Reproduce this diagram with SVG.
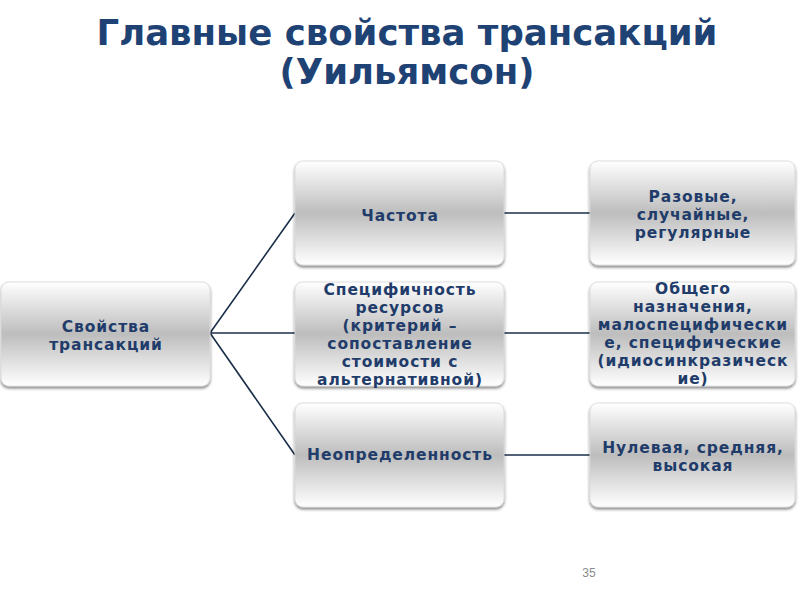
<svg xmlns="http://www.w3.org/2000/svg" width="800" height="600" viewBox="0 0 800 600">
<defs>
<linearGradient id="g" x1="0" y1="0" x2="0" y2="1">
<stop offset="0" stop-color="#ffffff"/>
<stop offset="0.5" stop-color="#bdbdbd"/>
<stop offset="1" stop-color="#ffffff"/>
</linearGradient>
<filter id="sh" x="-10%" y="-10%" width="120%" height="130%">
<feGaussianBlur in="SourceAlpha" stdDeviation="1.5"/>
<feOffset dy="2" result="b"/>
<feComponentTransfer><feFuncA type="linear" slope="0.5"/></feComponentTransfer>
<feMerge><feMergeNode/><feMergeNode in="SourceGraphic"/></feMerge>
</filter>
</defs>
<style>
.box{fill:url(#g);stroke:#d8d8d8;stroke-width:0.8;filter:url(#sh)}
.t{font-family:"DejaVu Sans",sans-serif;font-weight:bold;font-size:15.5px;letter-spacing:0.9px;fill:#1f3c6a;text-anchor:middle}
.title{font-family:"DejaVu Sans",sans-serif;font-weight:bold;font-size:35.5px;fill:#1f4275;text-anchor:middle}
.c{stroke:#1b2f4a;stroke-width:1.6;fill:none}
</style>
<rect width="800" height="600" fill="#fff"/>
<text class="title" x="407" y="45">Главные свойства трансакций</text>
<text class="title" x="407" y="84">(Уильямсон)</text>
<g id="connectors">
<path class="c" d="M210,333 L295,213 M210,333 L295,333 M210,333 L295,455"/>
<path class="c" d="M504,213 L590,213 M504,333 L590,333 M504,455 L590,455"/>
</g>
<g id="n0"><rect class="box" x="1" y="282" width="209" height="104" rx="8"/>
<text class="t" x="106" y="332">Свойства</text><text class="t" x="106" y="350">трансакций</text></g>
<g id="n1"><rect class="box" x="295" y="161" width="209" height="104" rx="8"/>
<text class="t" x="400" y="221">Частота</text></g>
<g id="n2"><rect class="box" x="295" y="282" width="209" height="104" rx="8"/>
<text class="t" x="400" y="295">Специфичность</text><text class="t" x="400" y="313">ресурсов</text><text class="t" x="400" y="331">(критерий –</text><text class="t" x="400" y="349">сопоставление</text><text class="t" x="400" y="367">стоимости с</text><text class="t" x="400" y="385">альтернативной)</text></g>
<g id="n3"><rect class="box" x="295" y="403" width="209" height="104" rx="8"/>
<text class="t" x="400" y="460">Неопределенность</text></g>
<g id="n4"><rect class="box" x="590" y="161" width="205" height="104" rx="8"/>
<text class="t" x="693" y="202">Разовые,</text><text class="t" x="693" y="220">случайные,</text><text class="t" x="693" y="238">регулярные</text></g>
<g id="n5"><rect class="box" x="590" y="282" width="205" height="104" rx="8"/>
<text class="t" x="693" y="294">Общего</text><text class="t" x="693" y="312">назначения,</text><text class="t" x="693" y="330">малоспецифически</text><text class="t" x="693" y="348">е, специфические</text><text class="t" x="693" y="366">(идиосинкразическ</text><text class="t" x="693" y="384">ие)</text></g>
<g id="n6"><rect class="box" x="590" y="403" width="205" height="104" rx="8"/>
<text class="t" x="693" y="453">Нулевая, средняя,</text><text class="t" x="693" y="471">высокая</text></g>
<text x="589" y="577" font-family="Liberation Sans,sans-serif" font-size="12" fill="#8c8c8c" text-anchor="middle">35</text>
</svg>
